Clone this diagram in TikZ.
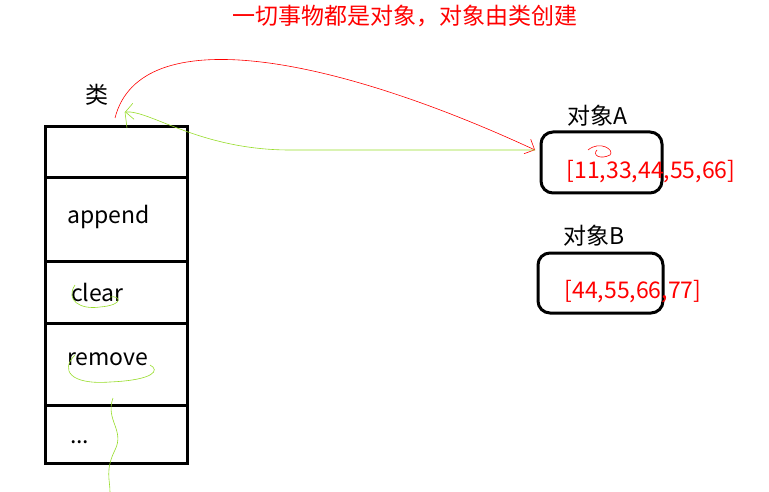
\documentclass[tikz,border=0pt]{standalone}
\usepackage{fontspec}
\setmainfont{Noto Sans CJK SC}
\usetikzlibrary{arrows.meta}
\definecolor{lg}{RGB}{150,220,40}
\tikzset{box/.style={draw=black,line width=3pt},
txt/.style={font=\fontsize{23}{26}\selectfont,inner sep=0pt},
redtxt/.style={text=red},
sk/.style={line width=0.6pt}}
\begin{document}
\begin{tikzpicture}[x=1pt,y=-1pt]
\useasboundingbox (0,0) rectangle (769,492);
\node[txt,redtxt] (title) at (405,16) {一切事物都是对象，对象由类创建};
\node[txt] (cls) at (97,95) {类};
\draw[box] (45,127) rectangle (187,463);
\foreach \y in {178,261,323,405} \draw[box] (45,\y) -- (187,\y);
\node[txt,anchor=west] (m1) at (67,217) {append};
\node[txt,anchor=west] (m2) at (71,292) {clear};
\node[txt,anchor=west] (m3) at (67,359) {remove};
\node[txt,anchor=west] (m4) at (70,442) {...};
\draw[box,rounded corners=12pt] (541,132) rectangle (662,193);
\node[txt] (la) at (597,116) {对象A};
\node[txt,redtxt] (va) at (651,172) {[11,33,44,55,66]};
\draw[box,rounded corners=12pt] (538,253) rectangle (663,313);
\node[txt] (lb) at (594,236) {对象B};
\node[txt,redtxt] (vb) at (633,292) {[44,55,66,77]};
\coordinate (ra) at (115,118);
\coordinate (rb) at (535,150);
\draw[draw=red,sk,-{Straight Barb[length=8pt]}] (ra) .. controls (140,20) and (330,55) .. (rb);
\coordinate (gb) at (125,112);
\draw[lg,sk,-{Straight Barb[length=8pt]}] (rb) -- (290,150) .. controls (200,150) and (150,110) .. (gb);
\draw[lg,sk] (125,112) -- (127,128);
\draw[draw=red,sk] (588,150) .. controls (600,140) and (615,150) .. (610,155) .. controls (600,160) and (592,155) .. (597,150);
\draw[lg,sk] (75,285) .. controls (65,300) and (80,310) .. (100,307) .. controls (125,305) and (120,295) .. (110,297);
\draw[lg,sk] (75,355) .. controls (60,370) and (70,385) .. (110,382) .. controls (155,380) and (160,370) .. (150,365);
\draw[lg,sk] (113,398) .. controls (105,420) and (125,430) .. (115,450) .. controls (105,470) and (110,480) .. (110,492);
\end{tikzpicture}
\end{document}
